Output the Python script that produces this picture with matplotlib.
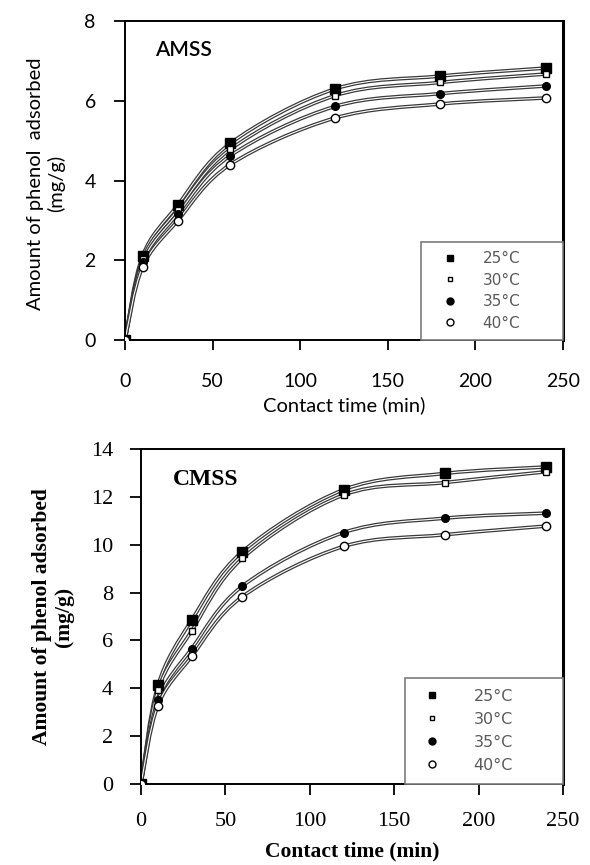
import numpy as np
import matplotlib
matplotlib.use('Agg')
import matplotlib.pyplot as plt
from matplotlib.path import Path
from matplotlib.patches import PathPatch

# contact time (min)
time = [0, 10, 30, 60, 120, 180, 240]
temps = ['25°C', '30°C', '35°C', '40°C']

# AMSS, amount of phenol adsorbed (mg/g)
amss_25 = [0, 2.11, 3.38, 4.93, 6.30, 6.62, 6.82]
amss_30 = [0, 2.03, 3.26, 4.78, 6.13, 6.46, 6.67]
amss_35 = [0, 1.95, 3.16, 4.62, 5.86, 6.18, 6.37]
amss_40 = [0, 1.83, 2.99, 4.40, 5.57, 5.92, 6.07]

# CMSS, amount of phenol adsorbed (mg/g)
cmss_25 = [0, 4.12, 6.85, 9.71, 12.30, 12.98, 13.25]
cmss_30 = [0, 3.92, 6.40, 9.43, 12.08, 12.60, 13.05]
cmss_35 = [0, 3.50, 5.66, 8.27, 10.51, 11.11, 11.32]
cmss_40 = [0, 3.28, 5.33, 7.83, 9.93, 10.42, 10.78]

markers = [('s', 'black', 6.5), ('s', 'white', 5), ('o', 'black', 5.5), ('o', 'white', 6)]
leg_markers = [('s', 'black', 4.5), ('s', 'white', 3.5), ('o', 'black', 5), ('o', 'white', 5)]


def smooth_path(x, y):
    # excel-like smoothed line (catmull-rom -> bezier)
    pts = np.column_stack([x, y]).astype(float)
    n = len(pts)
    verts = [pts[0]]
    codes = [Path.MOVETO]
    for i in range(n - 1):
        p0 = pts[max(i - 1, 0)]
        p1 = pts[i]
        p2 = pts[i + 1]
        p3 = pts[min(i + 2, n - 1)]
        verts += [p1 + (p2 - p0) / 6, p2 - (p3 - p1) / 6, p2]
        codes += [Path.CURVE4] * 3
    return Path(verts, codes)


def draw_panel(ax, series, ylim, yticks, font, tick_fs, legfs, legbox, legspace, legpad, htp, hlen):
    for s in series:
        p = smooth_path(time, s)
        ax.add_patch(PathPatch(p, facecolor='none', edgecolor='#3a3a3a', lw=2.6, zorder=2))
        ax.add_patch(PathPatch(p, facecolor='none', edgecolor='white', lw=0.8, zorder=2))
    for s, (m, fc, ms), (lm, lfc, lms), lab in zip(series, markers, leg_markers, temps):
        ax.plot(time, s, linestyle='none', marker=m, mfc=fc, mec='black', ms=ms, mew=1, zorder=3)
        ax.plot([], [], linestyle='none', marker=lm, mfc=lfc, mec='black', ms=lms, mew=1, label=lab)
    ax.set_xlim(0, 250)
    ax.set_ylim(*ylim)
    ax.set_xticks(np.arange(0, 251, 50))
    ax.set_yticks(yticks)
    for sp in ['left', 'bottom', 'top']:
        ax.spines[sp].set_linewidth(1.4)
    ax.spines['right'].set_linewidth(2.2)
    for lbl in ax.get_xticklabels() + ax.get_yticklabels():
        lbl.set_fontfamily(font)
        lbl.set_fontsize(tick_fs)
    leg = ax.legend(loc='lower left', bbox_to_anchor=legbox, mode='expand', borderaxespad=0,
                    fancybox=False, framealpha=1, edgecolor='#7a7a7a', handlelength=hlen,
                    handletextpad=htp, labelspacing=legspace, borderpad=legpad,
                    prop={'family': 'DejaVu Sans', 'size': legfs})
    leg.get_frame().set_linewidth(1.2)
    for t in leg.get_texts():
        t.set_color('#5a5a5a')
    return ax


fig = plt.figure(figsize=(5.9, 8.65), dpi=100)

# AMSS panel
ax1 = fig.add_axes([0.2119, 0.6069, 0.7424, 0.3688])
draw_panel(ax1, [amss_25, amss_30, amss_35, amss_40], (0, 8), np.arange(0, 9, 2), 'Lato', 14,
           11, (0.676, 0, 0.324, 0.313), 0.42, 0.62, 0.8, 2.6)
ax1.tick_params(axis='x', direction='out', length=7, width=1.3, pad=17)
ax1.tick_params(axis='y', direction='out', length=8, width=1.3, pad=13)
ax1.set_xlabel('Contact time (min)', family='Lato', fontsize=14.5)
ax1.xaxis.set_label_coords(0.5, -0.175)
ax1.set_ylabel('Amount of phenol  adsorbed\n(mg/g)', family='Lato', fontsize=14.5, linespacing=1.2)
ax1.yaxis.set_label_coords(-0.137, 0.49)
ax1.text(0.068, 0.91, 'AMSS', transform=ax1.transAxes, family='Lato', fontweight='semibold',
         fontsize=15, va='center', ha='left')

# CMSS panel
ax2 = fig.add_axes([0.2390, 0.0936, 0.7153, 0.3873])
draw_panel(ax2, [cmss_25, cmss_30, cmss_35, cmss_40], (0, 14), np.arange(0, 15, 2),
           'Liberation Serif', 16, 11.5, (0.6256, 0, 0.3744, 0.325), 0.5, 0.7, 1.6, 2.0)
ax2.tick_params(axis='x', direction='out', length=8, width=1.3, pad=12)
ax2.tick_params(axis='y', direction='out', length=8, width=1.3, pad=12)
ax2.set_xlabel('Contact time (min)', family='Liberation Serif', fontweight='bold', fontsize=15.5)
ax2.xaxis.set_label_coords(0.5, -0.17)
ax2.set_ylabel('Amount of phenol adsorbed\n(mg/g)', family='Liberation Serif', fontweight='bold',
               fontsize=15.5, linespacing=1.15)
ax2.yaxis.set_label_coords(-0.159, 0.5)
ax2.text(0.075, 0.91, 'CMSS', transform=ax2.transAxes, family='Liberation Serif',
         fontweight='bold', fontsize=17, va='center', ha='left')

fig.savefig('out.png', dpi=100)
